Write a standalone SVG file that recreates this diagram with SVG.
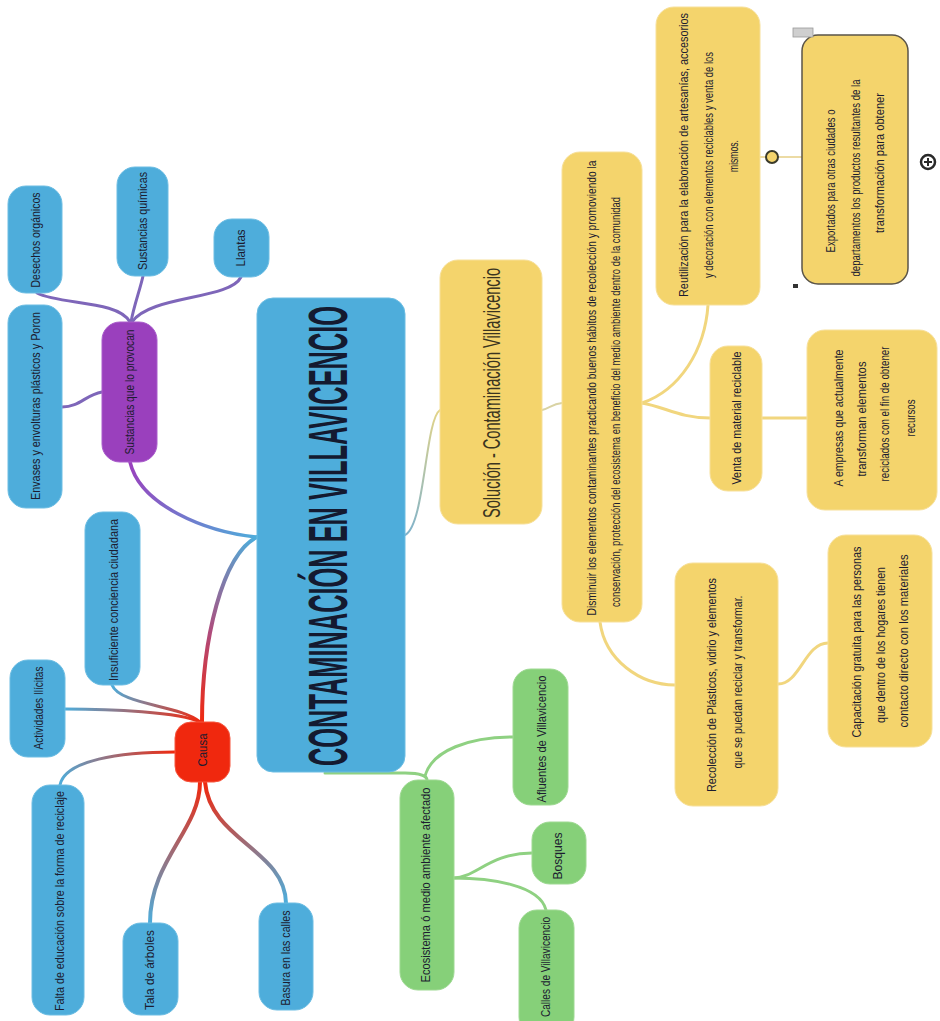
<svg xmlns="http://www.w3.org/2000/svg" width="940" height="1021" viewBox="0 0 940 1021">
<defs>
<style>
.t{font-family:"Liberation Sans Narrow","Liberation Sans",Arial,sans-serif;font-size:13px;fill:#1c1c30;text-anchor:middle}
.s12{font-size:12px}
.big{font-family:"Liberation Sans Narrow","Liberation Sans",Arial,sans-serif;font-size:46px;font-weight:bold;fill:#141a30;text-anchor:middle}
.sol{font-family:"Liberation Sans Narrow","Liberation Sans",Arial,sans-serif;font-size:24px;fill:#3a3420;text-anchor:middle}
.blue{fill:#4eaddb;stroke:#6cbde3;stroke-width:1}
.purple{fill:#9a40bd;stroke:#a95ccb;stroke-width:1}
.red{fill:#f0280e;stroke:#f5563f;stroke-width:1}
.green{fill:#86d079;stroke:#9ed992;stroke-width:1}
.yellow{fill:#f4d46c;stroke:#f7e09a;stroke-width:1}
.c{fill:none;stroke-linecap:round}
.cg{stroke:#8fd182;stroke-width:3}
.cy{stroke:#f1d67e;stroke-width:3}
.cp{stroke:#7e66b9;stroke-width:3}
</style>
<linearGradient id="gP" gradientUnits="userSpaceOnUse" x1="257" y1="537" x2="130" y2="462"><stop offset="0" stop-color="#4eaddb"/><stop offset="1" stop-color="#9a40bd"/></linearGradient>
<linearGradient id="gC" gradientUnits="userSpaceOnUse" x1="257" y1="537" x2="202" y2="722"><stop offset="0" stop-color="#4eaddb"/><stop offset="0.55" stop-color="#b04a7a"/><stop offset="1" stop-color="#f0280e"/></linearGradient>
<linearGradient id="g1" gradientUnits="userSpaceOnUse" x1="200" y1="722" x2="112" y2="685"><stop offset="0" stop-color="#f0280e"/><stop offset="1" stop-color="#4eaddb"/></linearGradient>
<linearGradient id="g2" gradientUnits="userSpaceOnUse" x1="200" y1="722" x2="65" y2="709"><stop offset="0" stop-color="#f0280e"/><stop offset="1" stop-color="#4eaddb"/></linearGradient>
<linearGradient id="g3" gradientUnits="userSpaceOnUse" x1="175" y1="752" x2="60" y2="785"><stop offset="0" stop-color="#f0280e"/><stop offset="1" stop-color="#4eaddb"/></linearGradient>
<linearGradient id="g4" gradientUnits="userSpaceOnUse" x1="200" y1="782" x2="150" y2="923"><stop offset="0" stop-color="#f0280e"/><stop offset="1" stop-color="#4eaddb"/></linearGradient>
<linearGradient id="g5" gradientUnits="userSpaceOnUse" x1="205" y1="782" x2="286" y2="903"><stop offset="0" stop-color="#f0280e"/><stop offset="1" stop-color="#4eaddb"/></linearGradient>
<linearGradient id="gS" gradientUnits="userSpaceOnUse" x1="405" y1="535" x2="440" y2="410"><stop offset="0" stop-color="#7fb2cc"/><stop offset="1" stop-color="#e3d488"/></linearGradient>
</defs>
<rect width="940" height="1021" fill="#ffffff"/>

<g id="connectors">
<path class="c" d="M257,537 C205,532 140,505 130,462" stroke="url(#gP)" stroke-width="3.5"/>
<path class="c" d="M257,537 C222,555 202,640 202,722" stroke="url(#gC)" stroke-width="4"/>
<path class="c cp" d="M130,322 C118,300 60,305 37,293"/>
<path class="c cp" d="M131,322 C134,305 140,290 143,276"/>
<path class="c cp" d="M132,322 C150,295 230,300 241,277"/>
<path class="c cp" d="M102,392 C85,395 80,407 62,407"/>
<path class="c" d="M200,722 C180,705 120,705 112,685" stroke="url(#g1)" stroke-width="3"/>
<path class="c" d="M200,722 C180,712 110,709 65,709" stroke="url(#g2)" stroke-width="3"/>
<path class="c" d="M175,752 C120,752 65,760 60,785" stroke="url(#g3)" stroke-width="3"/>
<path class="c" d="M200,782 C200,830 150,860 150,923" stroke="url(#g4)" stroke-width="4"/>
<path class="c" d="M205,782 C210,840 285,850 286,903" stroke="url(#g5)" stroke-width="4"/>
<path class="c" d="M405,535 C425,525 425,420 440,410" stroke="url(#gS)" stroke-width="2"/>
<path class="c" d="M542,410 C550,408 552,404 562,403" stroke="#d9d3a4" stroke-width="2"/>
<path class="c cy" d="M642,403 C680,390 705,350 708,305"/>
<path class="c cy" d="M642,403 C665,407 680,418 710,418"/>
<path class="c cy" d="M762,418 L807,418"/>
<path class="c cy" d="M600,622 C605,660 640,685 675,685"/>
<path class="c cy" d="M778,684 C800,684 805,643 828,643"/>
<path class="c" d="M760,157 L802,157" stroke="#d9b84a" stroke-width="1.2"/>
<path class="c cg" d="M325,773 L405,773 C420,773 427,776 427,780"/>
<path class="c cg" d="M425,776 C432,750 470,737 513,737"/>
<path class="c cg" d="M454,878 C475,878 490,853 532,853"/>
<path class="c cg" d="M454,878 C490,878 540,885 546,910"/>
</g>

<g id="n-central"><rect class="blue" x="257" y="298" width="148" height="474" rx="16"/><text class="big" transform="translate(347,536) rotate(-90) scale(1,1.2)" textLength="460" lengthAdjust="spacingAndGlyphs">CONTAMINACIÓN EN VILLAVICENCIO</text></g>

<g id="n-sustancias"><rect class="purple" x="102" y="322" width="55" height="140" rx="18"/><text class="t" transform="translate(134,392) rotate(-90)" textLength="125" lengthAdjust="spacingAndGlyphs">Sustancias que lo provocan</text></g>
<g id="n-desechos"><rect class="blue" x="8" y="186" width="54" height="107" rx="18"/><text class="t" transform="translate(40,240) rotate(-90)" textLength="95" lengthAdjust="spacingAndGlyphs">Desechos orgánicos</text></g>
<g id="n-quimicas"><rect class="blue" x="117" y="167" width="51" height="109" rx="18"/><text class="t" transform="translate(147,221) rotate(-90)" textLength="98" lengthAdjust="spacingAndGlyphs">Sustancias químicas</text></g>
<g id="n-llantas"><rect class="blue" x="214" y="219" width="55" height="58" rx="18"/><text class="t" transform="translate(245,248) rotate(-90)" textLength="37" lengthAdjust="spacingAndGlyphs">Llantas</text></g>
<g id="n-envases"><rect class="blue" x="8" y="305" width="54" height="203" rx="18"/><text class="t" transform="translate(40,406) rotate(-90)" textLength="188" lengthAdjust="spacingAndGlyphs">Envases y envolturas plásticos y Poron</text></g>

<g id="n-causa"><rect class="red" x="175" y="722" width="55" height="60" rx="16"/><text class="t" transform="translate(207,750) rotate(-90)" textLength="33" lengthAdjust="spacingAndGlyphs">Causa</text></g>
<g id="n-insuficiente"><rect class="blue" x="85" y="512" width="55" height="173" rx="18"/><text class="t" transform="translate(118,600) rotate(-90)" textLength="162" lengthAdjust="spacingAndGlyphs">Insuficiente conciencia ciudadana</text></g>
<g id="n-actividades"><rect class="blue" x="10" y="660" width="55" height="97" rx="18"/><text class="t" transform="translate(43,708) rotate(-90)" textLength="83" lengthAdjust="spacingAndGlyphs">Actividades Ilícitas</text></g>
<g id="n-falta"><rect class="blue" x="32" y="785" width="52" height="230" rx="18"/><text class="t" transform="translate(64,901) rotate(-90)" textLength="220" lengthAdjust="spacingAndGlyphs">Falta de educación sobre la forma de reciclaje</text></g>
<g id="n-tala"><rect class="blue" x="123" y="923" width="55" height="92" rx="18"/><text class="t" transform="translate(154,970) rotate(-90)" textLength="80" lengthAdjust="spacingAndGlyphs">Tala de árboles</text></g>
<g id="n-basura"><rect class="blue" x="259" y="903" width="54" height="107" rx="18"/><text class="t" transform="translate(290,958) rotate(-90)" textLength="95" lengthAdjust="spacingAndGlyphs">Basura en las calles</text></g>

<g id="n-ecosistema"><rect class="green" x="400" y="780" width="54" height="210" rx="18"/><text class="t" transform="translate(430,885) rotate(-90)" textLength="195" lengthAdjust="spacingAndGlyphs">Ecosistema ó medio ambiente afectado</text></g>
<g id="n-afluentes"><rect class="green" x="513" y="669" width="55" height="136" rx="18"/><text class="t" transform="translate(546,739) rotate(-90)" textLength="127" lengthAdjust="spacingAndGlyphs">Afluentes de Villavicencio</text></g>
<g id="n-bosques"><rect class="green" x="532" y="822" width="54" height="62" rx="18"/><text class="t" transform="translate(562,856) rotate(-90)" textLength="47" lengthAdjust="spacingAndGlyphs">Bosques</text></g>
<g id="n-calles"><rect class="green" x="519" y="910" width="55" height="125" rx="18"/><text class="t" transform="translate(550,967) rotate(-90)" textLength="100" lengthAdjust="spacingAndGlyphs">Calles de Villavicencio</text></g>

<g id="n-solucion"><rect class="yellow" x="440" y="260" width="102" height="264" rx="18"/><text class="sol" transform="translate(500,393) rotate(-90)" textLength="250" lengthAdjust="spacingAndGlyphs">Solución - Contaminación Villavicencio</text></g>
<g id="n-disminuir"><rect class="yellow" x="562" y="152" width="80" height="470" rx="18"/>
<text class="t" transform="translate(596,388) rotate(-90)" textLength="455" lengthAdjust="spacingAndGlyphs">Disminuir los elementos contaminantes practicando buenos hábitos de recolección y promoviendo la</text>
<text class="t" transform="translate(620,402) rotate(-90)" textLength="410" lengthAdjust="spacingAndGlyphs">conservación, protección del ecosistema en beneficio del medio ambiente dentro de la comunidad</text></g>
<g id="n-reutilizacion"><rect class="yellow" x="656" y="7" width="104" height="298" rx="18"/>
<text class="t s12" transform="translate(688,155) rotate(-90)" textLength="284" lengthAdjust="spacingAndGlyphs">Reutilización para la elaboración de artesanías, accesorios</text>
<text class="t s12" transform="translate(713,165) rotate(-90)" textLength="226" lengthAdjust="spacingAndGlyphs">y decoración con elementos reciclables y venta de los</text>
<text class="t" transform="translate(738,156) rotate(-90)" textLength="32" lengthAdjust="spacingAndGlyphs">mismos.</text></g>
<g id="n-exportados"><rect x="802" y="35" width="106" height="249" rx="16" fill="#f4d46c" stroke="#5a5448" stroke-width="1.5"/>
<text class="t" transform="translate(835,181) rotate(-90)" textLength="143" lengthAdjust="spacingAndGlyphs">Exportados para otras ciudades o</text>
<text class="t" transform="translate(860,178) rotate(-90)" textLength="197" lengthAdjust="spacingAndGlyphs">departamentos los productos resultantes de la</text>
<text class="t" transform="translate(884,163) rotate(-90)" textLength="140" lengthAdjust="spacingAndGlyphs">transformación para obtener</text>
<rect x="793" y="28" width="20" height="9" fill="#cfcfcf" stroke="#9a9a9a" stroke-width="0.8"/>
<rect x="793" y="284" width="5" height="4" fill="#333333"/>
<circle cx="772" cy="157" r="6" fill="#f4d46c" stroke="#3a3a2a" stroke-width="2"/>
<circle cx="928" cy="162" r="7" fill="#ffffff" stroke="#2a2a2a" stroke-width="2.5"/>
<path d="M924,162 H932 M928,158 V166" stroke="#2a2a2a" stroke-width="2"/></g>
<g id="n-venta"><rect class="yellow" x="710" y="346" width="52" height="145" rx="18"/><text class="t" transform="translate(741,418) rotate(-90)" textLength="133" lengthAdjust="spacingAndGlyphs">Venta de material reciclable</text></g>
<g id="n-empresas"><rect class="yellow" x="807" y="330" width="130" height="180" rx="18"/>
<text class="t" transform="translate(843,418) rotate(-90)" textLength="137" lengthAdjust="spacingAndGlyphs">A empresas que actualmente</text>
<text class="t" transform="translate(866,419) rotate(-90)" textLength="115" lengthAdjust="spacingAndGlyphs">transforman elementos</text>
<text class="t" transform="translate(889,414) rotate(-90)" textLength="135" lengthAdjust="spacingAndGlyphs">reciclados con el fin de obtener</text>
<text class="t" transform="translate(915,418) rotate(-90)" textLength="37" lengthAdjust="spacingAndGlyphs">recursos</text></g>
<g id="n-recoleccion"><rect class="yellow" x="675" y="563" width="103" height="243" rx="18"/>
<text class="t" transform="translate(716,685) rotate(-90)" textLength="214" lengthAdjust="spacingAndGlyphs">Recolección de Plásticos, vidrio y elementos</text>
<text class="t" transform="translate(742,682) rotate(-90)" textLength="173" lengthAdjust="spacingAndGlyphs">que se puedan reciclar y transformar.</text></g>
<g id="n-capacitacion"><rect class="yellow" x="828" y="535" width="104" height="212" rx="18"/>
<text class="t" transform="translate(861,642) rotate(-90)" textLength="191" lengthAdjust="spacingAndGlyphs">Capacitación gratuita para las personas</text>
<text class="t" transform="translate(885,645) rotate(-90)" textLength="156" lengthAdjust="spacingAndGlyphs">que dentro de los hogares tienen</text>
<text class="t" transform="translate(908,641) rotate(-90)" textLength="173" lengthAdjust="spacingAndGlyphs">contacto directo con los materiales</text></g>
</svg>
